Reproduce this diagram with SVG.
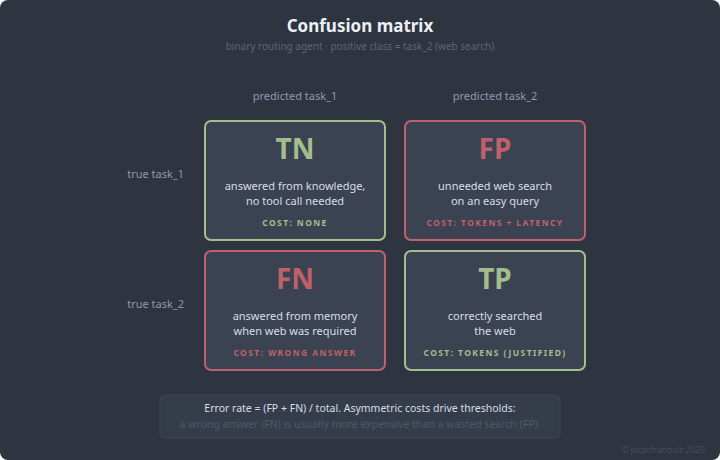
<svg xmlns="http://www.w3.org/2000/svg" width="720" height="460" viewBox="0 0 720 460">
<style>
text{font-family:"Noto Sans","Open Sans","DejaVu Sans",sans-serif}
.title{font-size:17px;font-weight:700;fill:#eceff4}
.sub{font-size:10px;fill:#5c667a}
.hdr{font-size:11px;fill:#8a9bb0}
.cell{fill:#3b4252;stroke-width:2}
.good{stroke:#a3be8c}
.bad{stroke:#bf616a}
.big{font-size:28px;font-weight:700}
.g{fill:#a3be8c}
.r{fill:#bf616a}
.desc{font-size:11px;fill:#d8dee9}
.cost{font-size:8.5px;font-weight:700;letter-spacing:1.4px}
.note{font-size:10.5px;fill:#d8dee9}
.note2{font-size:10.5px;fill:#4f586b}
.foot{font-size:8.5px;fill:#454e60}
</style>
<rect x="0" y="0" width="720" height="460" rx="8" fill="#2e3440"/>
<text class="title" x="360" y="32" text-anchor="middle">Confusion matrix</text>
<text class="sub" x="360" y="50" text-anchor="middle">binary routing agent · positive class = task_2 (web search)</text>
<g id="headers">
<text class="hdr" x="295" y="100" text-anchor="middle">predicted task_1</text>
<text class="hdr" x="495" y="100" text-anchor="middle">predicted task_2</text>
<text class="hdr" x="184" y="178" text-anchor="end">true task_1</text>
<text class="hdr" x="184" y="308" text-anchor="end">true task_2</text>
</g>
<g id="TN">
<rect class="cell good" x="205" y="121" width="180" height="119" rx="6"/>
<text class="big g" x="295" y="159" text-anchor="middle">TN</text>
<text class="desc" x="295" y="190" text-anchor="middle">answered from knowledge,</text>
<text class="desc" x="295" y="205" text-anchor="middle">no tool call needed</text>
<text class="cost g" x="295" y="226" text-anchor="middle">COST: NONE</text>
</g>
<g id="FP">
<rect class="cell bad" x="405" y="121" width="180" height="119" rx="6"/>
<text class="big r" x="495" y="159" text-anchor="middle">FP</text>
<text class="desc" x="495" y="190" text-anchor="middle">unneeded web search</text>
<text class="desc" x="495" y="205" text-anchor="middle">on an easy query</text>
<text class="cost r" x="495" y="226" text-anchor="middle">COST: TOKENS + LATENCY</text>
</g>
<g id="FN">
<rect class="cell bad" x="205" y="251" width="180" height="119" rx="6"/>
<text class="big r" x="295" y="289" text-anchor="middle">FN</text>
<text class="desc" x="295" y="320" text-anchor="middle">answered from memory</text>
<text class="desc" x="295" y="335" text-anchor="middle">when web was required</text>
<text class="cost r" x="295" y="356" text-anchor="middle">COST: WRONG ANSWER</text>
</g>
<g id="TP">
<rect class="cell good" x="405" y="251" width="180" height="119" rx="6"/>
<text class="big g" x="495" y="289" text-anchor="middle">TP</text>
<text class="desc" x="495" y="320" text-anchor="middle">correctly searched</text>
<text class="desc" x="495" y="335" text-anchor="middle">the web</text>
<text class="cost g" x="495" y="356" text-anchor="middle">COST: TOKENS (JUSTIFIED)</text>
</g>
<g id="note">
<rect x="160" y="395" width="400" height="43" rx="5" fill="#353c4a" stroke="#3f4757" stroke-width="1"/>
<text class="note" x="360" y="412" text-anchor="middle">Error rate = (FP + FN) / total. Asymmetric costs drive thresholds:</text>
<text class="note2" x="360" y="428" text-anchor="middle">a wrong answer (FN) is usually more expensive than a wasted search (FP).</text>
</g>
<text class="foot" x="705" y="453" text-anchor="end">© jocerfranquiz 2026</text>
</svg>
